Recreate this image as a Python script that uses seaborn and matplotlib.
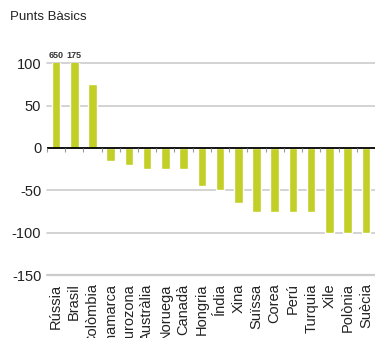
import matplotlib
matplotlib.use("Agg")
import matplotlib.pyplot as plt
import numpy as np
import pandas as pd
import seaborn as sns

# Spread changes by country, in basis points
countries = ["Rússia", "Brasil", "Colòmbia", "Dinamarca", "Eurozona", "Austràlia",
             "Noruega", "Canadà", "Hongria", "Índia", "Xina", "Suïssa", "Corea",
             "Perú", "Turquia", "Xile", "Polònia", "Suècia"]
values = [650, 175, 75, -15, -20, -25, -25, -25, -45, -50, -65, -75, -75, -75, -75,
          -100, -100, -100]
y_ticks = [100, 50, 0, -50, -100, -150]
y_max, y_min = 100, -150

sns.set_theme(style="white")
plt.rcParams["font.family"] = ["Liberation Sans", "DejaVu Sans"]

df = pd.DataFrame({"country": countries, "value": values})

fig = plt.figure(figsize=(3.75, 3.38), dpi=100)
ax = fig.add_axes([0.125, 0.186, 0.875, 0.627])

sns.barplot(data=df, x="country", y="value", color="#c2cf26", width=0.47,
            saturation=1, ax=ax, zorder=3)

ax.set_ylim(y_min, y_max)
ax.set_xlim(-0.5, len(countries) - 0.5)
ax.set_yticks(y_ticks)
ax.set_yticklabels([f"{t}" for t in y_ticks], fontsize=10.5, color="#222222")

for t in y_ticks:
    if t == 0:
        continue
    ax.axhline(t, color="#cccccc", lw=1.6 if t == y_min else 1.2, zorder=1,
               clip_on=False)
ax.axhline(0, color="black", lw=1.3, zorder=4)

# small separators hanging below the zero line between categories
bounds = np.arange(len(countries) + 1) - 0.5
ax.vlines(bounds, -5, 0, color="#999999", lw=0.8, zorder=4, clip_on=False)

for s in ax.spines.values():
    s.set_visible(False)

ax.tick_params(axis="both", length=0, pad=4)
ax.set_xlabel("")
ax.set_ylabel("")
ax.set_xticks(range(len(countries)))
ax.set_xticklabels(countries, rotation=90, ha="center", va="top",
                   fontsize=10.5, color="#222222")
ax.tick_params(axis="x", pad=6)

# values of the bars that run past the top of the scale
for i, v in enumerate(values):
    if v > y_max:
        ax.text(i, y_max + 4, f"{v}", ha="center", va="bottom", fontsize=6.5,
                fontweight="bold", color="#333333", clip_on=False)

fig.text(0.027, 0.95, "Punts Bàsics", fontsize=9.5, color="#222222",
         ha="left", va="center")

fig.savefig("out.png", dpi=100)
